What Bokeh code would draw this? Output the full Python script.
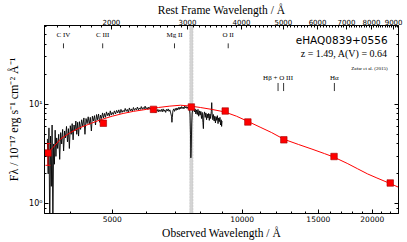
import numpy as np
from bokeh.plotting import figure
from bokeh.models import (Range1d, LogScale, LogAxis, FixedTicker, NumeralTickFormatter,
                          CustomJSTickFormatter, BoxAnnotation, Label)
from bokeh.embed import file_html
from bokeh.resources import INLINE
from bokeh.core.properties import value

# ---------------- data ----------------
z_qso = 1.49
obj_name = "eHAQ0839+0556"
info_text = "z = 1.49, A(V) = 0.64"
ref_text = "Zafar et al. (2015)"

spec_wl = [3540, 3555, 3570, 3585, 3600, 3615, 3630, 3645, 3660, 3675, 3690, 3705, 3720,
           3740, 3760, 3780, 3800, 3820, 3840, 3860, 3880, 3900, 3920, 3940, 3960, 3980,
           4000, 4020, 4040, 4060, 4080, 4100, 4120, 4140, 4160, 4180, 4200,
           4225, 4250, 4275, 4300, 4325, 4350, 4375, 4400, 4425, 4450, 4475, 4500, 4525,
           4550, 4575, 4600, 4625, 4650, 4675, 4700, 4725, 4750, 4775, 4800, 4825, 4850,
           4875, 4900, 4925, 4950, 4975, 5000,
           5030, 5060, 5090, 5120, 5150, 5180, 5210, 5240, 5270, 5300, 5330, 5360, 5390,
           5420, 5450, 5480, 5510, 5540, 5570, 5600, 5630, 5660, 5690, 5720, 5750, 5780,
           5810, 5840, 5870, 5900, 5930, 5960, 5990, 6020, 6050, 6080, 6110, 6140, 6170,
           6200, 6230, 6260, 6290, 6320, 6350, 6380, 6410, 6440, 6470,
           6500, 6530, 6560, 6590, 6620, 6650, 6680, 6710, 6740, 6770, 6800, 6830, 6860,
           6875, 6890, 6910, 6940, 6970, 7000, 7030, 7060, 7090, 7120, 7150, 7180, 7210,
           7240, 7270, 7300, 7330, 7360, 7390, 7420, 7450, 7480, 7510, 7540,
           7570, 7590, 7605, 7620, 7640, 7660, 7690,
           7720, 7750, 7780, 7810, 7840, 7870, 7900, 7930, 7960, 7990, 8020, 8050, 8080,
           8110, 8130, 8150, 8180, 8210, 8240, 8270, 8300, 8330, 8360, 8390, 8420, 8450,
           8480, 8500, 8520, 8550, 8580, 8610, 8640, 8670, 8700, 8730, 8760, 8790, 8820,
           8850, 8880, 8910, 8940, 8960, 8980]
spec_flux = [4.5, 2.0, 5.8, 0.5, 4.8, 1.5, 6.2, 0.6, 4.0, 2.5, 5.5, 3.0, 4.6,
             3.6, 5.0, 2.8, 5.2, 4.0, 5.6, 3.4, 5.4, 4.6, 6.0, 4.2, 5.7, 3.6,
             6.1, 5.0, 6.4, 4.4, 6.2, 5.4, 6.8, 5.0, 6.6, 4.8, 6.7,
             5.6, 7.0, 6.0, 7.3, 5.0, 7.2, 6.4, 7.5, 6.3, 7.4, 5.4, 7.6, 6.8,
             7.7, 6.2, 7.9, 7.0, 8.0, 6.6, 7.8, 7.2, 8.2, 7.3, 8.1, 7.4, 8.4,
             7.7, 8.2, 7.6, 8.6, 7.8, 8.3,
             7.9, 8.6, 8.0, 8.7, 8.2, 8.8, 8.1, 8.9, 8.3, 8.7, 8.4, 9.1, 8.5,
             8.9, 8.3, 9.2, 8.6, 9.0, 8.5, 9.3, 8.7, 9.1, 8.8, 9.4, 8.8, 9.2,
             8.9, 9.5, 8.9, 9.3, 9.0, 9.6, 9.0, 9.3, 8.9, 9.4, 9.0, 9.2, 8.6,
             8.9, 8.4, 8.8, 8.3, 8.7, 8.5, 8.9, 8.4, 8.8, 8.5,
             8.9, 8.4, 9.0, 8.5, 8.8, 8.3, 8.9, 8.6, 9.0, 8.5, 8.8, 8.2, 7.6,
             6.6, 7.4, 8.6, 9.0, 8.5, 9.1, 8.7, 9.2, 8.8, 9.3, 8.9, 9.4, 9.0,
             9.5, 9.1, 9.4, 9.0, 9.6, 9.2, 9.5, 9.1, 9.4, 9.0, 9.3,
             8.0, 5.0, 2.9, 3.6, 6.5, 8.2, 8.8,
             9.3, 8.4, 9.0, 8.0, 8.8, 7.9, 8.9, 7.6, 8.6, 7.8, 8.5, 7.2, 8.3,
             6.6, 5.7, 7.8, 8.4, 7.4, 8.2, 7.0, 8.0, 7.3, 8.1, 6.9, 8.0, 7.2,
             8.5, 10.4, 8.0, 7.0, 7.9, 6.8, 7.6, 6.5, 7.5, 6.9, 7.7, 6.4, 7.3,
             6.7, 7.4, 6.2, 7.0, 6.0, 6.8]

model_wl = [3540, 3650, 3800, 4000, 4200, 4450, 4700, 5000, 5300, 5600, 6000, 6400, 6800,
            7200, 7600, 8000, 8500, 9100, 9700, 10300, 11000, 11700, 12500, 13500, 14500,
            15500, 16300, 17500, 18500, 19500, 20500, 22000, 23000]
model_flux = [3.2, 3.7, 4.5, 5.2, 5.8, 6.4, 7.0, 7.6, 8.1, 8.5, 8.9, 9.3, 9.6,
              9.8, 9.6, 9.3, 8.9, 8.4, 7.6, 6.75, 5.9, 5.2, 4.45, 3.95, 3.55,
              3.2, 2.95, 2.55, 2.25, 2.0, 1.82, 1.6, 1.47]

phot_wl = [3551, 4770, 6231, 7625, 9134, 10305, 12483, 16313, 22010]
phot_flux = [3.24, 6.46, 8.9, 9.4, 8.57, 6.65, 4.4, 2.99, 1.62]
phot_err = [0.8, 0.15, 0.1, 0.1, 0.15, 0.12, 0.08, 0.06, 0.04]

line_names_top = ["C IV", "C III", "Mg II", "O II"]
line_rest_top = [1549, 1909, 2799, 3727]
line_names_bot = ["H\u03b2 + O III", "H\u03b1"]
line_rest_bot_label = [4861, 6563]
line_rest_bot_ticks = [4861, 5007, 6563]

telluric_band = (7557, 7695)

bottom_ticks = [5000, 10000, 15000, 20000]
bottom_minor = [w for w in range(4000, 24000, 1000) if w not in bottom_ticks]
top_ticks = [2000, 3000, 4000, 5000, 6000, 7000, 8000, 9000]
top_minor = [w for w in range(1400, 9300, 100) if w not in top_ticks]
y_ticks = [1, 10]
y_minor = [0.9, 2, 3, 4, 5, 6, 7, 8, 9, 20, 30, 40, 50, 60]

x_lo, x_hi = 3486, 23000
y_lo, y_hi = 0.8, 62

# layout constants (data-space positions for annotations)
top_tick_y = (36.6, 41.0)
top_text_y = 50.0
bot_tick_y = (13.6, 16.4)
bot_text_y = 18.5
info_x = 21700

# ---------------- figure ----------------
p = figure(width=407, height=242, x_axis_type="log", y_axis_type="log",
           x_range=Range1d(x_lo, x_hi), y_range=Range1d(y_lo, y_hi),
           output_backend="svg", toolbar_location=None,
           min_border_left=44, min_border_right=9, min_border_top=24, min_border_bottom=29)
p.grid.visible = False
p.outline_line_color = "black"
p.outline_line_width = 1
p.background_fill_color = "white"
p.border_fill_color = "white"

p.extra_x_ranges = {"rest": Range1d(x_lo / (1 + z_qso), x_hi / (1 + z_qso))}
p.extra_x_scales = {"rest": LogScale()}


def style(ax, size="7px"):
    ax.major_tick_in = 4
    ax.major_tick_out = 0
    ax.minor_tick_in = 2
    ax.minor_tick_out = 0
    ax.axis_line_color = "black"
    ax.major_tick_line_color = "black"
    ax.minor_tick_line_color = "black"
    ax.major_label_text_font = "DejaVu Sans"
    ax.major_label_text_font_size = size
    ax.major_label_text_color = "black"
    ax.major_label_standoff = 2
    ax.axis_label_text_font = "Liberation Serif"
    ax.axis_label_text_font_size = "11.5px"
    ax.axis_label_text_font_style = "normal"
    ax.axis_label_text_color = "black"
    ax.axis_label_standoff = 2


xb = p.xaxis[0]
xb.ticker = FixedTicker(ticks=bottom_ticks, minor_ticks=bottom_minor)
xb.formatter = NumeralTickFormatter(format="0")
xb.axis_label = "Observed Wavelength / \u00c5"
style(xb, "7.5px")

yl = p.yaxis[0]
yl.ticker = FixedTicker(ticks=y_ticks, minor_ticks=y_minor)
yl.formatter = CustomJSTickFormatter(code="""
const sup = {"-1": "\u207b\u00b9", "0": "\u2070", "1": "\u00b9", "2": "\u00b2"};
const e = Math.round(Math.log10(tick));
return "10" + sup[String(e)];
""")
yl.axis_label = "F\u03bb / 10\u207b\u00b9\u2077 erg s\u207b\u00b9 cm\u207b\u00b2 \u00c5\u207b\u00b9"
style(yl, "8px")
yl.axis_label_text_font_size = "12px"
yl.axis_label_standoff = 5

top = LogAxis(x_range_name="rest", ticker=FixedTicker(ticks=top_ticks, minor_ticks=top_minor),
              formatter=NumeralTickFormatter(format="0"),
              axis_label="Rest Frame Wavelength / \u00c5")
style(top, "7px")
top.major_label_standoff = 1
top.axis_label_standoff = 0
p.add_layout(top, "above")

right = LogAxis(ticker=FixedTicker(ticks=y_ticks, minor_ticks=y_minor),
                formatter=CustomJSTickFormatter(code="return ' ';"))
style(right, "1px")
right.major_label_text_alpha = 0
right.major_label_standoff = 0
p.add_layout(right, "right")

# telluric band
band = BoxAnnotation(left=telluric_band[0], right=telluric_band[1], fill_color="#cfcfcf",
                     fill_alpha=0.9, line_color="#a0a0a0", line_dash="2 1", line_width=0.8,
                     level="underlay")
p.add_layout(band)

# spectrum and model
p.line(spec_wl, spec_flux, line_color="black", line_width=0.9)
p.line(model_wl, model_flux, line_color="red", line_width=1)

# photometry with error bars
lo = [f - e for f, e in zip(phot_flux, phot_err)]
hi = [f + e for f, e in zip(phot_flux, phot_err)]
p.segment(x0=phot_wl, y0=lo, x1=phot_wl, y1=hi, line_color="red", line_width=1)
p.scatter(phot_wl, lo, marker="dash", size=5, line_color="red", line_width=1)
p.scatter(phot_wl, hi, marker="dash", size=5, line_color="red", line_width=1)
p.scatter(phot_wl, phot_flux, marker="square", size=6.5, fill_color="red",
          line_color="#a00000", line_width=0.6)

# emission line markers
obs_top = [r * (1 + z_qso) for r in line_rest_top]
p.segment(x0=obs_top, y0=[top_tick_y[0]] * len(obs_top), x1=obs_top,
          y1=[top_tick_y[1]] * len(obs_top), line_color="black", line_width=0.8)
p.text(x=obs_top, y=[top_text_y] * len(obs_top), text=line_names_top, text_align="center",
       text_baseline="middle", text_font=value("Liberation Serif"), text_font_size="7px",
       text_color="black")

obs_bt = [r * (1 + z_qso) for r in line_rest_bot_ticks]
p.segment(x0=obs_bt, y0=[bot_tick_y[0]] * len(obs_bt), x1=obs_bt,
          y1=[bot_tick_y[1]] * len(obs_bt), line_color="black", line_width=0.8)
obs_bl = [r * (1 + z_qso) for r in line_rest_bot_label]
p.text(x=obs_bl, y=[bot_text_y] * len(obs_bl), text=line_names_bot, text_align="center",
       text_baseline="middle", text_font=value("Liberation Serif"), text_font_size="7px",
       text_color="black")

# info labels
p.add_layout(Label(x=info_x, y=44, text=obj_name, text_align="right", text_baseline="middle",
                   text_font="DejaVu Sans", text_font_size="10.5px", text_color="black"))
p.add_layout(Label(x=info_x, y=32.2, text=info_text, text_align="right", text_baseline="middle",
                   text_font="Liberation Serif", text_font_size="10px", text_color="black"))
p.add_layout(Label(x=info_x, y=23.1, text=ref_text, text_align="right", text_baseline="middle",
                   text_font="Liberation Serif", text_font_size="5px", text_color="black"))

open("out.html", "w").write(file_html(p, INLINE))
